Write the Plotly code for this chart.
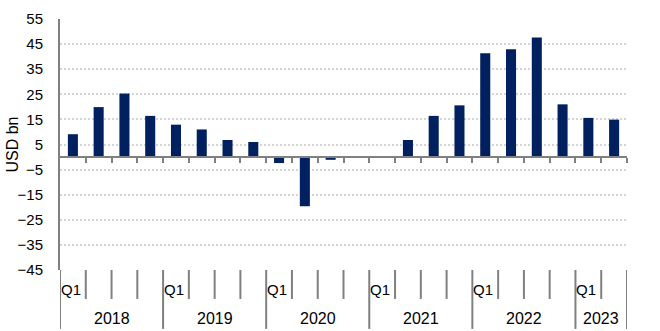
import plotly.graph_objects as go

# Quarterly values, USD bn
years = ["2018", "2019", "2020", "2021", "2022", "2023"]
quarters_per_year = [4, 4, 4, 4, 4, 2]
quarter_labels = ["Q1", "Q2", "Q3", "Q4"]
values = [9.1, 19.9, 25.3, 16.4,
          12.9, 11.0, 6.8, 6.0,
          -2.4, -19.6, -1.1, 0.0,
          0.0, 6.8, 16.4, 20.6,
          41.4, 42.9, 47.6, 21.0,
          15.6, 14.9]
y_ticks = [-45, -35, -25, -15, -5, 5, 15, 25, 35, 45, 55]
y_title = "USD bn"

W, H = 660, 331
M_L, M_R, M_T, M_B = 60, 33, 10, 61
plot_h = H - M_T - M_B

n = len(values)
x_pos = [i + 0.5 for i in range(n)]
y_min, y_max = y_ticks[0], y_ticks[-1]

NAVY = "#002060"
AXIS_GREY = "#808080"
GRID_GREY = "#D4D4D4"
FONT = "Liberation Sans, Arial, sans-serif"


def px_below(px):
    """Paper y coordinate for a pixel distance below the plot area."""
    return -px / plot_h


fig = go.Figure()
fig.add_trace(go.Bar(x=x_pos, y=values, marker=dict(color=NAVY, line=dict(width=0)),
                     hoverinfo="y"))

shapes = []
annotations = []

# Category separators under the plot: short ones between quarters,
# full-height ones between years
start = 0
for year, count in zip(years, quarters_per_year):
    for q in range(count):
        pos = start + q
        full = q == 0
        shapes.append(dict(type="line", xref="x", yref="paper",
                           x0=pos, x1=pos, y0=0,
                           y1=px_below(61 if full else 30),
                           line=dict(color=AXIS_GREY, width=2)))
    annotations.append(dict(xref="x", yref="paper", x=start, y=px_below(20),
                            text=quarter_labels[0], showarrow=False,
                            xanchor="left", yanchor="middle", xshift=-1,
                            font=dict(family=FONT, size=15, color="#000")))
    annotations.append(dict(xref="x", yref="paper", x=start + count / 2,
                            y=px_below(50), text=year, showarrow=False,
                            xanchor="center", yanchor="middle",
                            font=dict(family=FONT, size=16, color="#000")))
    start += count
shapes.append(dict(type="line", xref="x", yref="paper", x0=start, x1=start,
                   y0=0, y1=px_below(61), line=dict(color=AXIS_GREY, width=2)))

annotations.append(dict(xref="paper", yref="paper", x=-(M_L - 12) / (W - M_L - M_R),
                        y=0.5, text=y_title, textangle=-90, showarrow=False,
                        xanchor="center", yanchor="middle",
                        font=dict(family=FONT, size=16, color="#000")))

fig.update_layout(
    width=W, height=H,
    margin=dict(l=M_L, r=M_R, t=M_T, b=M_B, pad=0),
    paper_bgcolor="white", plot_bgcolor="white",
    bargap=0.61,
    showlegend=False,
    font=dict(family=FONT, size=15, color="#000"),
    shapes=shapes,
    annotations=annotations,
    xaxis=dict(
        range=[0, n], anchor="free",
        position=(0 - y_min) / (y_max - y_min),
        showline=True, linecolor=AXIS_GREY, linewidth=2,
        ticks="outside", ticklen=5, tickwidth=2, tickcolor=AXIS_GREY,
        tickvals=list(range(1, n + 1)), showticklabels=False,
        showgrid=False, zeroline=False, fixedrange=True,
    ),
    yaxis=dict(
        range=[y_min, y_max], tickvals=y_ticks,
        showline=True, linecolor=AXIS_GREY, linewidth=2,
        ticks="outside", ticklen=12, tickcolor="rgba(0,0,0,0)",
        showgrid=True, gridcolor=GRID_GREY, gridwidth=2, griddash="2px,2px",
        zeroline=False, tickfont=dict(family=FONT, size=15, color="#000"),
        fixedrange=True,
    ),
)

fig.write_html("out.html", config={"displayModeBar": False})
